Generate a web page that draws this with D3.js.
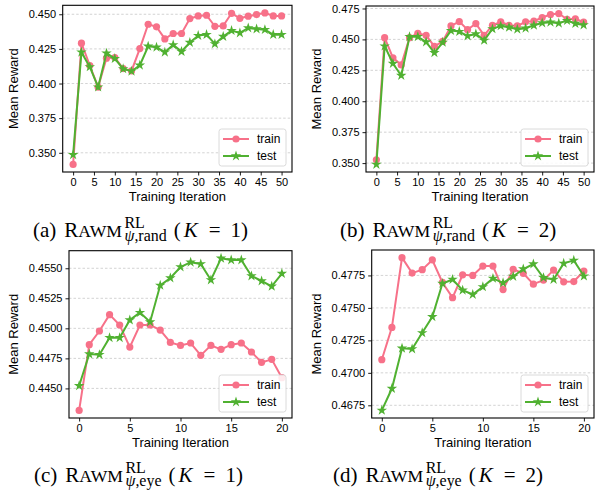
<!DOCTYPE html>
<html><head><meta charset="utf-8">
<script src="https://cdn.jsdelivr.net/npm/d3@7"></script>
<style>body{margin:0;background:#fff}svg{display:block}</style>
</head><body>
<svg id="c" width="598" height="497"></svg>
<script>
// ---------- data ----------
const itersA = [0,2,4,6,8,10,12,14,16,18,20,22,24,26,28,30,32,34,36,38,40,42,44,46,48,50];
const itersC = [0,1,2,3,4,5,6,7,8,9,10,11,12,13,14,15,16,17,18,19,20];

const trainA = [0.3416,0.4291,0.4130,0.3974,0.4183,0.4188,0.4108,0.4091,0.4252,0.4428,0.4409,0.4322,0.4361,0.4361,0.4469,0.4488,0.4493,0.4413,0.4416,0.4507,0.4471,0.4486,0.4498,0.4510,0.4488,0.4488];
const testA  = [0.3486,0.4226,0.4120,0.3974,0.4219,0.4180,0.4106,0.4089,0.4132,0.4269,0.4262,0.4226,0.4279,0.4231,0.4296,0.4346,0.4353,0.4286,0.4339,0.4382,0.4365,0.4401,0.4394,0.4389,0.4353,0.4353];

const trainB = [0.3527,0.4514,0.4351,0.4294,0.4514,0.4549,0.4533,0.4444,0.4484,0.4609,0.4644,0.4579,0.4628,0.4533,0.4614,0.4642,0.4614,0.4609,0.4642,0.4647,0.4677,0.4701,0.4709,0.4663,0.4666,0.4639];
const testB  = [0.3489,0.4446,0.4305,0.4208,0.4522,0.4522,0.4479,0.4392,0.4476,0.4571,0.4563,0.4528,0.4544,0.4492,0.4585,0.4609,0.4598,0.4582,0.4590,0.4614,0.4633,0.4639,0.4631,0.4652,0.4628,0.4617];

const trainC = [0.44317,0.44864,0.44978,0.45114,0.45028,0.44844,0.45028,0.45028,0.44986,0.44883,0.44858,0.44878,0.44775,0.44858,0.44825,0.44864,0.44878,0.44803,0.44717,0.44742,0.44589];
const testC  = [0.44522,0.44786,0.44781,0.44922,0.44922,0.45069,0.45131,0.45053,0.45358,0.45419,0.45511,0.45550,0.45536,0.45403,0.45583,0.45569,0.45569,0.45436,0.45394,0.45350,0.45456];

const trainD = [0.47101,0.47350,0.47887,0.47768,0.47794,0.47869,0.47696,0.47579,0.47755,0.47750,0.47822,0.47822,0.47641,0.47797,0.47766,0.47683,0.47714,0.47791,0.47701,0.47703,0.47784];
const testD  = [0.46711,0.46879,0.47189,0.47184,0.47308,0.47432,0.47688,0.47719,0.47636,0.47603,0.47662,0.47727,0.47693,0.47742,0.47799,0.47838,0.47732,0.47719,0.47843,0.47866,0.47745];

const xTicksAB = [0,5,10,15,20,25,30,35,40,45,50];
const xTicksCD = [0,5,10,15,20];
const yTicksA = ["0.350","0.375","0.400","0.425","0.450"];
const yTicksB = ["0.350","0.375","0.400","0.425","0.450","0.475"];
const yTicksC = ["0.4450","0.4475","0.4500","0.4525","0.4550"];
const yTicksD = ["0.4675","0.4700","0.4725","0.4750","0.4775"];
const seriesNames = ["train","test"];
const captionLetters = ["(a)","(b)","(c)","(d)"];
const captionSubs = ["rand","rand","eye","eye"];
const captionK = ["1","2","1","2"];

// ---------- style ----------
const colTrain = "#f77189", colTest = "#50b131";
const sans = "'Liberation Sans', Arial, sans-serif";
const serif = "'Liberation Serif', 'Times New Roman', serif";
const svg = d3.select("#c");

function panel(box, xs, tr, te, xTicks, yTicks) {
  const g = svg.append("g");
  const [L,R,T,B] = box;
  const xr = d3.max(xs)-d3.min(xs);
  const x = d3.scaleLinear().domain([d3.min(xs)-0.05*xr, d3.max(xs)+0.05*xr]).range([L,R]);
  const all = tr.concat(te);
  const lo = d3.min(all), hi = d3.max(all), yr = hi-lo;
  const y = d3.scaleLinear().domain([lo-0.05*yr, hi+0.05*yr]).range([B,T]);
  // grid
  g.selectAll(".grid").data(yTicks).join("line")
    .attr("x1",L).attr("x2",R).attr("y1",d=>y(+d)).attr("y2",d=>y(+d))
    .attr("stroke","#c8c8c8").attr("stroke-width",0.8).attr("stroke-dasharray","2.5,2");
  // axes
  const ya = d3.axisLeft(y).tickValues(yTicks.map(Number)).tickFormat((d,i)=>yTicks[i]).tickSizeOuter(0).tickSize(3.5).tickPadding(3);
  const xa = d3.axisBottom(x).tickValues(xTicks).tickFormat(d3.format("d")).tickSizeOuter(0).tickSize(3.5).tickPadding(3);
  const ga = g.append("g").attr("transform",`translate(${L},0)`).call(ya);
  const gb = g.append("g").attr("transform",`translate(0,${B})`).call(xa);
  [ga,gb].forEach(a=>{
    a.select(".domain").remove();
    a.selectAll("text").attr("font-family",sans).attr("font-size",11).attr("fill","#000");
    a.selectAll("line").attr("stroke","#000").attr("stroke-width",0.9);
  });
  // lines
  const line = d3.line().x((d,i)=>x(xs[i])).y(d=>y(d));
  g.append("path").attr("d",line(tr)).attr("fill","none").attr("stroke",colTrain).attr("stroke-width",2);
  g.selectAll(".ptr").data(tr).join("circle").attr("cx",(d,i)=>x(xs[i])).attr("cy",d=>y(d)).attr("r",3.6).attr("fill",colTrain);
  g.append("path").attr("d",line(te)).attr("fill","none").attr("stroke",colTest).attr("stroke-width",2);
  const star = d3.symbol().type(d3.symbolStar).size(34);
  g.selectAll(".pte").data(te).join("path").attr("d",star)
    .attr("transform",(d,i)=>`translate(${x(xs[i])},${y(d)})`).attr("fill",colTest);
  // frame
  g.append("rect").attr("x",L).attr("y",T).attr("width",R-L).attr("height",B-T)
    .attr("fill","none").attr("stroke","#000").attr("stroke-width",1.1);
  // labels
  g.append("text").attr("x",(L+R)/2).attr("y",B+29).attr("text-anchor","middle")
    .attr("font-family",sans).attr("font-size",13).text("Training Iteration");
  g.append("text").attr("transform",`translate(${L-45 - (yTicks[0].length>5?6:0)},${(T+B)/2}) rotate(-90)`)
    .attr("text-anchor","middle").attr("font-family",sans).attr("font-size",13).text("Mean Reward");
  // legend
  const lx = R-73, ly = B-43;
  g.append("rect").attr("x",lx).attr("y",ly).attr("width",67).attr("height",37).attr("rx",2.5)
    .attr("fill","#fff").attr("fill-opacity",0.85).attr("stroke","#d6d6d6").attr("stroke-width",0.9);
  const cols = [colTrain,colTest];
  seriesNames.forEach((nm,i)=>{
    const yy = ly + 10 + i*17;
    g.append("line").attr("x1",lx+4).attr("x2",lx+30).attr("y1",yy).attr("y2",yy).attr("stroke",cols[i]).attr("stroke-width",2);
    if(i===0) g.append("circle").attr("cx",lx+17).attr("cy",yy).attr("r",3.6).attr("fill",cols[i]);
    else g.append("path").attr("d",star).attr("transform",`translate(${lx+17},${yy})`).attr("fill",cols[i]);
    g.append("text").attr("x",lx+38).attr("y",yy+4).attr("font-family",sans).attr("font-size",12).text(nm);
  });
}

function caption(x0, yb, idx) {
  const fs = 21;
  const g = svg.append("g").attr("font-family",serif).attr("fill","#000")
    .attr("transform",`translate(${x0},${yb})`);
  let x = 0;
  function piece(txt, size, dy, italic) {
    const t = g.append("text").attr("x",x).attr("y",dy).attr("font-size",size).text(txt);
    if (italic) t.attr("font-style","italic");
    return t.node().getComputedTextLength();
  }
  function rich(parts, size, dy) {
    const t = g.append("text").attr("x",x).attr("y",dy).attr("font-size",size);
    parts.forEach(p=>t.append("tspan").attr("font-style",p[1]?"italic":"normal").text(p[0]));
    return t.node().getComputedTextLength();
  }
  x += piece(captionLetters[idx], fs, 0) + 8;
  x += piece("R", fs, 0);
  x += piece("AWM", fs*0.84, 0);
  x += 2.5;
  const w1 = piece("RL", fs*0.76, -fs*0.42);
  const w2 = rich([["ψ",true],[","+captionSubs[idx],false]], fs*0.76, fs*0.2);
  x += Math.max(w1,w2) + 7;
  x += piece("(", fs, 0) + 3;
  x += piece("K", fs, 0, true) + 11;
  x += piece("=", fs, 0) + 10;
  x += piece(captionK[idx], fs, 0);
  x += piece(")", fs, 0);
}

panel([62.7,292,5.3,172], itersA, trainA, testA, xTicksAB, yTicksA);
panel([366,594,6,172], itersA, trainB, testB, xTicksAB, yTicksB);
panel([69,292,250.7,418], itersC, trainC, testC, xTicksCD, yTicksC);
panel([371.7,594,250,418], itersC, trainD, testD, xTicksCD, yTicksD);

caption(33, 237, 0);
caption(340, 237, 1);
caption(34, 482, 2);
caption(333, 482, 3);
</script>
</body></html>
